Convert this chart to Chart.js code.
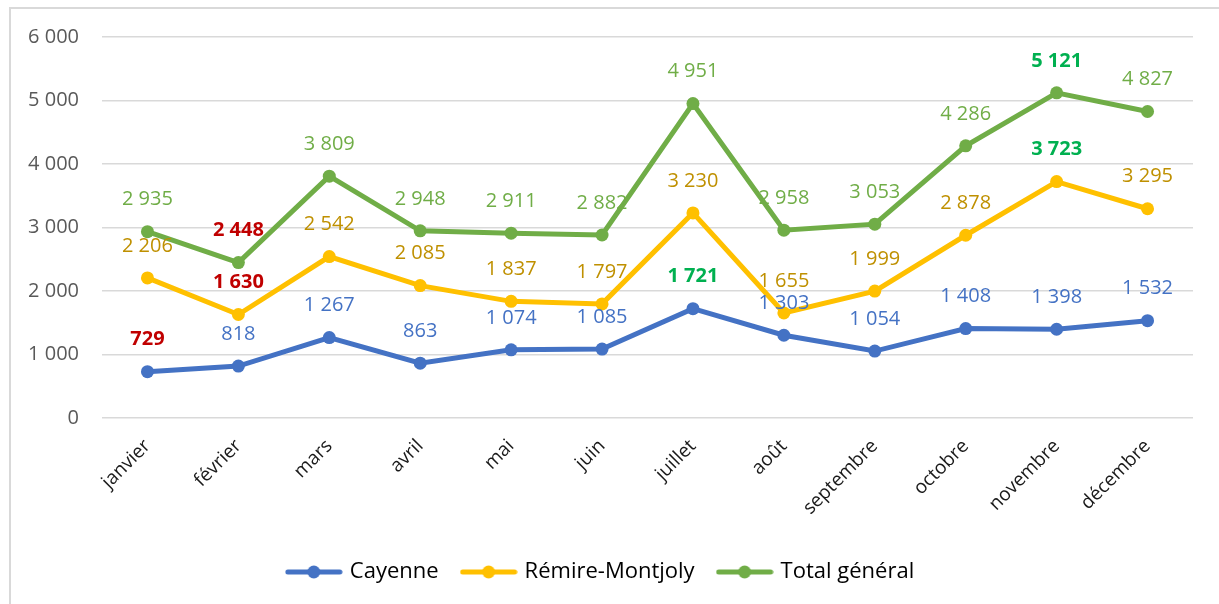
<!DOCTYPE html>
<html>
<head>
<meta charset="utf-8">
<script src="https://cdn.jsdelivr.net/npm/chart.js@4/dist/chart.umd.min.js"></script>
<style>
  html, body { margin: 0; padding: 0; background: #fff; overflow: hidden; }
  #wrap { position: relative; width: 1219px; height: 604px; }
  #frame { position: absolute; left: 9px; top: 7px; width: 1230px; height: 620px; border: 2px solid #d9d9d9; box-sizing: border-box; }
  canvas { position: absolute; left: 0; top: 0; }
</style>
</head>
<body>
<div id="wrap">
  <div id="frame"></div>
  <canvas id="chart" width="1219" height="604"></canvas>
</div>
<script>
// data
const months = ['janvier', 'février', 'mars', 'avril', 'mai', 'juin', 'juillet', 'août', 'septembre', 'octobre', 'novembre', 'décembre'];
const cayenne = [729, 818, 1267, 863, 1074, 1085, 1721, 1303, 1054, 1408, 1398, 1532];
const remire = [2206, 1630, 2542, 2085, 1837, 1797, 3230, 1655, 1999, 2878, 3723, 3295];
const total = [2935, 2448, 3809, 2948, 2911, 2882, 4951, 2958, 3053, 4286, 5121, 4827];
const seriesNames = ['Cayenne', 'Rémire-Montjoly', 'Total général'];
const yTicks = [0, 1000, 2000, 3000, 4000, 5000, 6000];

const FONT = "'Open Sans', 'DejaVu Sans', sans-serif";
const lineColors = ['#4472C4', '#FFC000', '#70AD47'];
const labelColors = ['#4472C4', '#BF9000', '#70AD47'];

const fmt = v => String(v).replace(/\B(?=(\d{3})+(?!\d))/g, ' ');

// legend icon: short line with a dot in the middle
function legendIcon(color) {
  const c = document.createElement('canvas');
  c.width = 58; c.height = 14;
  const g = c.getContext('2d');
  g.strokeStyle = color;
  g.lineWidth = 5;
  g.lineCap = 'round';
  g.beginPath(); g.moveTo(3, 7); g.lineTo(55, 7); g.stroke();
  g.fillStyle = color;
  g.beginPath(); g.arc(29, 7, 6.5, 0, Math.PI * 2); g.fill();
  return c;
}

// value labels above each point, min in red and max in green
const valueLabels = {
  id: 'valueLabels',
  afterDatasetsDraw(chart) {
    const ctx = chart.ctx;
    ctx.save();
    ctx.textAlign = 'center';
    ctx.textBaseline = 'middle';
    chart.data.datasets.forEach((ds, i) => {
      const meta = chart.getDatasetMeta(i);
      const min = Math.min(...ds.data);
      const max = Math.max(...ds.data);
      meta.data.forEach((pt, j) => {
        const v = ds.data[j];
        let color = labelColors[i];
        let weight = 'normal';
        if (v === min) { color = '#C00000'; weight = 'bold'; }
        if (v === max) { color = '#00B050'; weight = 'bold'; }
        ctx.font = weight + ' 20px ' + FONT;
        ctx.fillStyle = color;
        ctx.fillText(fmt(v), pt.x, pt.y - 32);
      });
    });
    ctx.restore();
  }
};

const allSeries = [cayenne, remire, total];

new Chart(document.getElementById('chart'), {
  type: 'line',
  data: {
    labels: months,
    datasets: allSeries.map((d, i) => ({
      label: seriesNames[i],
      data: d,
      borderColor: lineColors[i],
      backgroundColor: lineColors[i],
      borderWidth: 5,
      pointRadius: 6.5,
      pointBorderWidth: 0,
      pointBackgroundColor: lineColors[i],
      tension: 0
    }))
  },
  options: {
    responsive: false,
    devicePixelRatio: 1,
    animation: false,
    layout: { padding: { left: 10, right: 26, top: 37, bottom: 11 } },
    scales: {
      x: {
        offset: true,
        grid: { display: false },
        border: { display: false },
        ticks: {
          minRotation: 45, maxRotation: 45,
          color: '#1a1a1a',
          font: { family: FONT, size: 19 },
          padding: 9
        },
        afterFit: s => { s.height = 118; }
      },
      y: {
        min: 0, max: 6000,
        afterBuildTicks: s => { s.ticks = yTicks.map(v => ({ value: v })); },
        grid: { color: '#d9d9d9', lineWidth: 1.5, drawTicks: false },
        border: { display: false },
        ticks: {
          color: '#595959',
          font: { family: FONT, size: 20 },
          padding: 23,
          callback: v => fmt(v)
        },
        afterFit: s => { s.width = 92; }
      }
    },
    plugins: {
      tooltip: { enabled: false },
      legend: {
        position: 'bottom',
        labels: {
          usePointStyle: true,
          pointStyleWidth: 50,
          padding: 25,
          color: '#000',
          font: { family: FONT, size: 22 },
          generateLabels: chart => chart.data.datasets.map((ds, i) => ({
            text: ds.label,
            pointStyle: legendIcon(lineColors[i]),
            fillStyle: lineColors[i],
            strokeStyle: lineColors[i],
            lineWidth: 0,
            fontColor: '#000',
            datasetIndex: i,
            hidden: false
          }))
        }
      }
    }
  },
  plugins: [valueLabels]
});
</script>
</body>
</html>
